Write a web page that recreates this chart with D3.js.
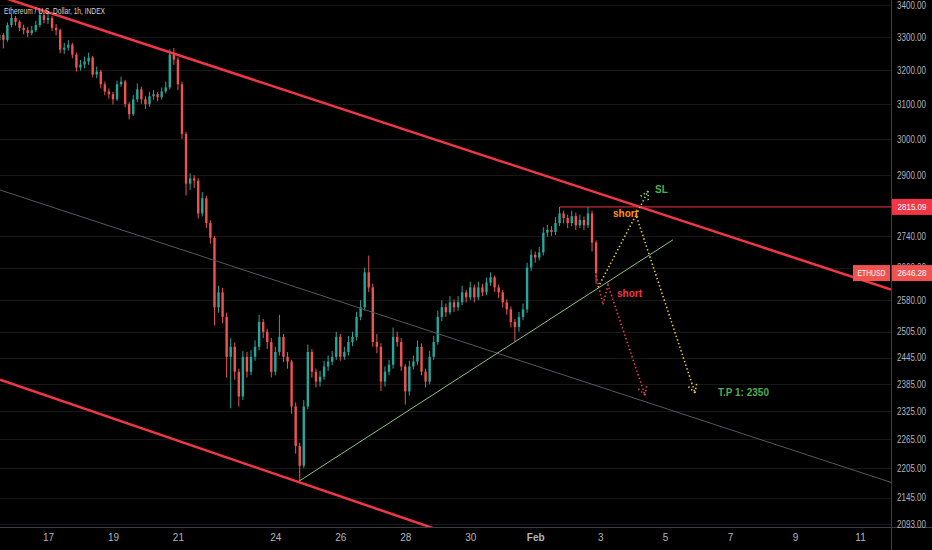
<!DOCTYPE html>
<html>
<head>
<meta charset="utf-8">
<script src="https://cdn.jsdelivr.net/npm/d3@7"></script>
<style>
  html, body { margin: 0; padding: 0; background: #000; }
  svg { display: block; font-family: "Liberation Sans", Arial, sans-serif; }
  .axis text { fill: #b2b5be; font-size: 10px; }
  .axis path, .axis line { display: none; }
</style>
</head>
<body>
<div id="chart"></div>
<script>
// ETHUSD 1h, sampled every 3 hours, starting 15 Jan 2022 12:00 UTC
var startTime = Date.UTC(2022, 0, 15, 12),
  stepHours = 3,
  firstOpen = 3290

var closes = [3306,3291,3337,3359,3347,3328,3321,3312,3321,3337,
  3368,3353,3359,3328,3321,3261,3267,3276,3246,3207,
  3216,3225,3237,3186,3195,3157,3136,3128,3113,3157,
  3165,3099,3070,3113,3142,3113,3099,3122,3128,3119,
  3136,3148,3246,3231,3157,3014,2877,2891,2885,2798,
  2838,2773,2735,2563,2599,2540,2447,2470,2413,2358,
  2447,2413,2447,2470,2528,2505,2481,2413,2458,2493,
  2447,2436,2336,2251,2210,2336,2458,2413,2391,2402,
  2425,2436,2447,2493,2447,2458,2481,2493,2540,2563,
  2648,2611,2481,2470,2391,2413,2429,2493,2481,2425,
  2369,2425,2436,2470,2413,2391,2447,2481,2540,2563,
  2551,2575,2563,2575,2599,2587,2611,2587,2611,2599,
  2623,2636,2611,2599,2575,2558,2528,2516,2540,2558,
  2660,2692,2685,2698,2748,2755,2750,2773,2798,2786,
  2773,2791,2767,2781,2767,2798,2723,2646.28]

var highs = [3325,3312,3345,3372,3365,3352,3338,3330,3334,3350,
  3385,3378,3372,3365,3340,3326,3282,3290,3282,3252,
  3230,3240,3252,3242,3210,3200,3165,3145,3135,3168,
  3180,3170,3105,3125,3160,3150,3122,3135,3140,3135,
  3148,3165,3262,3266,3238,3165,3020,2905,2900,2892,
  2855,2845,2780,2740,2615,2610,2550,2490,2480,2420,
  2460,2458,2462,2485,2545,2535,2512,2490,2470,2545,
  2500,2458,2440,2345,2258,2350,2475,2465,2420,2415,
  2438,2450,2460,2505,2500,2470,2495,2505,2552,2580,
  2660,2690,2620,2500,2478,2425,2440,2515,2505,2490,
  2430,2438,2450,2485,2478,2420,2460,2495,2555,2580,
  2572,2590,2582,2590,2615,2605,2625,2618,2625,2620,
  2635,2648,2640,2618,2605,2582,2565,2535,2552,2572,
  2672,2705,2700,2712,2762,2768,2765,2788,2815,2805,
  2795,2805,2800,2795,2790,2815,2805,2728]

var lows = [3270,3265,3285,3330,3335,3318,3308,3300,3305,3315,
  3330,3342,3340,3318,3305,3250,3248,3258,3235,3195,
  3198,3205,3215,3178,3175,3145,3125,3115,3098,3108,
  3150,3090,3055,3065,3105,3100,3085,3092,3112,3108,
  3112,3130,3142,3215,3140,3000,2845,2860,2865,2785,
  2790,2760,2720,2520,2550,2525,2400,2332,2395,2336,
  2350,2400,2405,2438,2462,2490,2465,2400,2405,2450,
  2435,2420,2320,2235,2180,2205,2330,2400,2378,2380,
  2395,2415,2428,2440,2438,2440,2450,2472,2485,2532,
  2555,2600,2470,2455,2370,2380,2405,2420,2470,2415,
  2340,2360,2418,2428,2405,2378,2385,2440,2475,2530,
  2540,2545,2552,2555,2568,2575,2580,2575,2580,2590,
  2592,2615,2600,2585,2562,2545,2515,2482,2505,2532,
  2550,2652,2672,2678,2690,2738,2740,2742,2765,2772,
  2760,2765,2755,2760,2755,2760,2700,2620]

var priceTicks = [3400, 3300, 3200, 3100, 3000, 2900, 2740, 2660, 2580, 2505, 2445, 2385, 2325, 2265, 2205, 2145, 2093]
var dateTicks = ["2022-01-17", "2022-01-19", "2022-01-21", "2022-01-24", "2022-01-26", "2022-01-28", "2022-01-30",
  "2022-02-01", "2022-02-03", "2022-02-05", "2022-02-07", "2022-02-09", "2022-02-11"]
var timeDomain = ["2022-01-15T12:32Z", "2022-02-11T22:54Z"],
  priceDomain = [2087, 3416]

var lastPrice = 2646.28, levelPrice = 2815.09, levelStart = "2022-02-01T18:15Z"

// drawings: [time, price]
var upperChannel = [["2022-01-17T01:30Z", 3375], ["2022-02-04T05:24Z", 2815]]
var lowerChannel = [["2022-01-15T12:32Z", 2395], ["2022-01-24T16:44Z", 2177]]
var midLine = [["2022-01-15T12:32Z", 2860], ["2022-02-03T00:00Z", 2379]]
var supportLine = [["2022-01-24T16:44Z", 2177], ["2022-02-05T05:50Z", 2730]]
var redPath = [["2022-02-02T21:00Z", 2640], ["2022-02-03T02:07Z", 2569], ["2022-02-03T05:47Z", 2617], ["2022-02-04T09:07Z", 2361]]
var yellowPath = [["2022-02-02T22:25Z", 2611], ["2022-02-04T02:30Z", 2794], ["2022-02-05T22:05Z", 2366]]
var slPath = [["2022-02-04T02:30Z", 2794], ["2022-02-04T11:21Z", 2857]]
var notes = [
  {text: "short", at: ["2022-02-03T09:29Z", 2799], color: "#ff9800"},
  {text: "SL", at: ["2022-02-04T16:31Z", 2860], color: "#4caf50"},
  {text: "short", at: ["2022-02-03T12:26Z", 2595], color: "#f23645"},
  {text: "T.P 1: 2350", at: ["2022-02-06T15:04Z", 2366], color: "#4caf50"}
]

var width = 932, height = 550, plotW = 891, plotH = 527
var up = "#26a69a", down = "#ef5350", red = "#f23645"

var svg = d3.select("#chart").append("svg")
  .attr("width", width).attr("height", height)
  .attr("viewBox", [0, 0, width, height])
svg.append("rect").attr("width", width).attr("height", height).attr("fill", "#000")

var x = d3.scaleUtc().domain(timeDomain.map(function(d){ return new Date(d) })).range([0, plotW])
var y = d3.scaleLog().domain(priceDomain).range([plotH, 0])

function px(p){ return [x(new Date(p[0])), y(p[1])] }

svg.append("clipPath").attr("id", "plot")
  .append("rect").attr("width", plotW).attr("height", plotH)

// grid
svg.append("g").selectAll("line")
  .data(priceTicks).enter().append("line")
  .attr("x1", 0).attr("x2", plotW)
  .attr("y1", function(d){ return Math.round(y(d)) + 0.5 })
  .attr("y2", function(d){ return Math.round(y(d)) + 0.5 })
  .attr("stroke", "#181818")

var plot = svg.append("g").attr("clip-path", "url(#plot)")

// candles
var candles = closes.map(function(c, i){
  return {
    t: new Date(startTime + i * stepHours * 3600e3),
    o: i == 0 ? firstOpen : closes[i - 1],
    h: highs[i], l: lows[i], c: c
  }
})
var bw = 2.4
var cg = plot.append("g").selectAll("g").data(candles).enter().append("g")
  .attr("fill", function(d){ return d.c >= d.o ? up : down })
  .attr("stroke", function(d){ return d.c >= d.o ? up : down })
cg.append("line")
  .attr("x1", function(d){ return x(d.t) }).attr("x2", function(d){ return x(d.t) })
  .attr("y1", function(d){ return y(d.h) }).attr("y2", function(d){ return y(d.l) })
  .attr("stroke-width", 1)
cg.append("rect")
  .attr("x", function(d){ return x(d.t) - bw / 2 })
  .attr("width", bw)
  .attr("y", function(d){ return y(Math.max(d.o, d.c)) })
  .attr("height", function(d){ return Math.max(1, y(Math.min(d.o, d.c)) - y(Math.max(d.o, d.c))) })
  .attr("stroke", "none")

// trend lines, extended across the pane
function extended(pts){
  var a = px(pts[0]), b = px(pts[1]), k = (b[1] - a[1]) / (b[0] - a[0])
  return [[0, a[1] - k * a[0]], [plotW, a[1] + k * (plotW - a[0])]]
}
var line = d3.line()
plot.append("path").attr("d", line(extended(midLine)))
  .attr("stroke", "#55585f").attr("stroke-width", 1).attr("fill", "none")
plot.append("path").attr("d", line(supportLine.map(px)))
  .attr("stroke", "#8fbf8a").attr("stroke-width", 1).attr("fill", "none")
plot.append("path").attr("d", line(extended(upperChannel)))
  .attr("stroke", red).attr("stroke-width", 2.5).attr("fill", "none")
plot.append("path").attr("d", line(extended(lowerChannel)))
  .attr("stroke", red).attr("stroke-width", 2.5).attr("fill", "none")
plot.append("line")
  .attr("x1", x(new Date(levelStart))).attr("x2", plotW)
  .attr("y1", y(levelPrice)).attr("y2", y(levelPrice))
  .attr("stroke", red).attr("stroke-width", 1)

// dotted arrows
function arrow(pts, color){
  var p = pts.map(px)
  var g = plot.append("g").attr("stroke", color).attr("fill", "none")
    .attr("stroke-width", 1.6).attr("stroke-dasharray", "1.4,2.4")
  g.append("path").attr("d", line(p))
  var b = p[p.length - 1], a = p[p.length - 2],
    ang = Math.atan2(a[1] - b[1], a[0] - b[0])
  ;[-0.5, 0.5].forEach(function(s){
    g.append("path").attr("d", line([b, [b[0] + 9 * Math.cos(ang + s), b[1] + 9 * Math.sin(ang + s)]]))
  })
}
arrow(redPath, "#e8405a")
arrow(yellowPath, "#e6c84a")
arrow(slPath, "#9ccc8a")

plot.selectAll("text.note").data(notes).enter().append("text")
  .attr("class", "note")
  .attr("x", function(d){ return px(d.at)[0] })
  .attr("y", function(d){ return px(d.at)[1] })
  .attr("dy", "0.35em")
  .attr("fill", function(d){ return d.color })
  .attr("font-size", 10).attr("font-weight", "bold")
  .text(function(d){ return d.text })

// axes
svg.append("line").attr("x1", plotW + 0.5).attr("x2", plotW + 0.5).attr("y1", 0).attr("y2", height)
  .attr("stroke", "#3a3e47")
svg.append("line").attr("x1", 0).attr("x2", width).attr("y1", plotH + 0.5).attr("y2", plotH + 0.5)
  .attr("stroke", "#3a3e47")

svg.append("g").attr("class", "axis")
  .attr("transform", `translate(${plotW},0)`)
  .call(d3.axisRight(y).tickValues(priceTicks).tickSize(0).tickPadding(6).tickFormat(d3.format(".2f")))
  .selectAll("text")
  .attr("textLength", 29).attr("lengthAdjust", "spacingAndGlyphs")

var fmtDay = d3.utcFormat("%-d"), fmtMon = d3.utcFormat("%b")
svg.append("g").attr("class", "axis")
  .attr("transform", `translate(0,${plotH})`)
  .call(d3.axisBottom(x).tickValues(dateTicks.map(function(d){ return new Date(d) }))
    .tickSize(0).tickPadding(7)
    .tickFormat(function(d){ return d.getUTCDate() == 1 ? fmtMon(d) : fmtDay(d) }))
  .selectAll("text")
  .attr("font-size", 9.5)
  .attr("font-weight", function(d){ return d.getUTCDate() == 1 ? "bold" : null })
  .attr("fill", function(d){ return d.getUTCDate() == 1 ? "#d1d4dc" : null })

// price labels
function priceTag(x0, w, price, text, fill, tw){
  var cy = y(price)
  svg.append("rect").attr("x", x0).attr("y", cy - 8).attr("width", w).attr("height", 16).attr("fill", fill)
  svg.append("text").attr("x", x0 + w / 2).attr("y", cy).attr("dy", "0.35em")
    .attr("text-anchor", "middle").attr("fill", "#fff").attr("font-size", 9.5)
    .attr("textLength", tw).attr("lengthAdjust", "spacingAndGlyphs").text(text)
}
priceTag(plotW + 1, 40, levelPrice, d3.format(".2f")(levelPrice), red, 29)
priceTag(853, 37, lastPrice, "ETHUSD", "#ef5350", 28)
priceTag(plotW + 1, 40, lastPrice, d3.format(".2f")(lastPrice), "#ef5350", 29)

svg.append("text").attr("x", 4).attr("y", 14)
  .attr("fill", "#d1d4dc").attr("font-size", 9.5)
  .attr("textLength", 101).attr("lengthAdjust", "spacingAndGlyphs")
  .text("Ethereum / U.S. Dollar, 1h, INDEX")
</script>
</body>
</html>
